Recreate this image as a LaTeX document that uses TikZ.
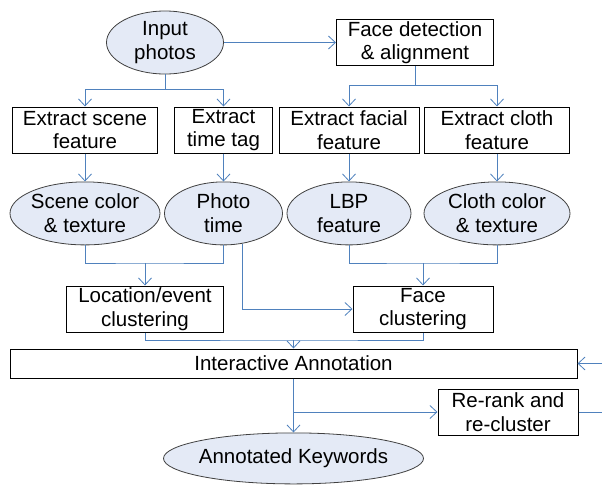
\documentclass[tikz,border=0pt]{standalone}
\usepackage{fontspec}
\setmainfont{Liberation Sans}
\usepackage{xcolor}
\usepackage{tikz}
\usetikzlibrary{shapes,arrows.meta,positioning}
\definecolor{linkblue}{RGB}{79,129,189}
\definecolor{ovalfill}{RGB}{228,234,246}

\begin{document}
\begin{tikzpicture}[
    x=1pt, y=-1pt,
    font=\fontsize{20.5}{23.5}\selectfont,
    box/.style={rectangle, draw=black, line width=1pt, inner sep=0pt, minimum height=46pt, align=center},
    oval/.style={ellipse, draw=black!75, fill=ovalfill, line width=0.8pt, inner ysep=0pt, inner xsep=-3pt, minimum height=63pt, align=center},
    link/.style={draw=linkblue, line width=1pt},
    arrow/.style={link, -{Straight Barb[length=7pt,width=13pt,line width=0.8pt]}}
]
\useasboundingbox (0,0) rectangle (602,485);

\node[oval, minimum width=117pt] (inp) at (165,42.5) {Input\\photos};
\node[box, minimum width=157pt] (facedet) at (415,42.5) {Face detection\\\& alignment};
\node[box, minimum width=145pt] (scene) at (85,130) {Extract scene\\feature};
\node[box, minimum width=98pt] (timetag) at (223.5,130) {Extract\\time tag};
\node[box, minimum width=140pt] (facial) at (349,130) {Extract facial\\feature};
\node[box, minimum width=145pt] (cloth) at (497,130) {Extract cloth\\feature};
\node[oval, minimum width=150pt, below=28pt of scene] (scenecol) {Scene color\\\& texture};
\node[oval, minimum width=118pt, below=28pt of timetag] (phototime) {Photo\\time};
\node[oval, minimum width=124pt, below=28pt of facial] (lbp) {LBP\\feature};
\node[oval, minimum width=146pt, below=28pt of cloth] (clothcol) {Cloth color\\\& texture};
\node[box, minimum width=157pt] (locclus) at (145,309) {Location/event\\clustering};
\node[box, minimum width=140pt] (faceclus) at (423,309) {Face\\clustering};
\node[box, minimum width=567pt, minimum height=29pt] (annot) at (293.5,363.5) {Interactive Annotation};
\node[box, minimum width=140pt] (rerank) at (508,412) {Re-rank and\\re-cluster};
\node[oval, minimum width=260pt, minimum height=51pt, below=54pt of annot] (keywords) {Annotated Keywords};

\coordinate (split1) at (165,89);
\coordinate (split2) at (415,85);
\coordinate (join1) at (145,263);
\coordinate (join2) at (423,263);
\coordinate (join3) at (293.5,340);
\coordinate (branch) at (293.5,412);
\coordinate (loop) at (612,412);

\draw[arrow] (inp) -- (facedet);
\draw[link] (inp.south) -- (split1);
\draw[arrow] (split1) -| (scene.north);
\draw[arrow] (split1) -| (timetag.north);
\draw[link] (facedet.south) -- (split2);
\draw[arrow] (split2) -| (facial.north);
\draw[arrow] (split2) -| (cloth.north);
\draw[arrow] (scene) -- (scenecol);
\draw[arrow] (timetag) -- (phototime);
\draw[arrow] (facial) -- (lbp);
\draw[arrow] (cloth) -- (clothcol);
\draw[link] (scenecol.south) |- (join1) -| (phototime.south);
\draw[arrow] (join1) -- (locclus.north);
\draw[arrow] (phototime.-58) |- (faceclus.west);
\draw[link] (lbp.south) |- (join2) -| (clothcol.south);
\draw[arrow] (join2) -- (faceclus.north);
\draw[link] (locclus.south) |- (join3) -| (faceclus.south);
\draw[arrow] (join3) -- (annot.north);
\draw[arrow] (annot.south) -- (keywords.north);
\draw[arrow] (branch) -- (rerank.west);
\draw[arrow] (rerank.east) -- (loop) |- (annot.east);
\end{tikzpicture}
\end{document}
